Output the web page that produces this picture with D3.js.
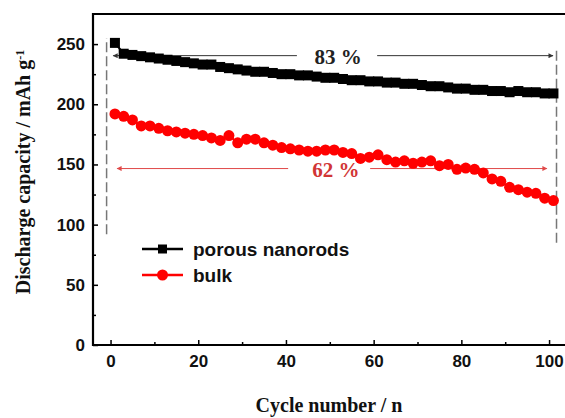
<!DOCTYPE html>
<html>
<head>
<meta charset="utf-8">
<script src="https://cdn.jsdelivr.net/npm/d3@7"></script>
<style>
  html, body { margin: 0; padding: 0; background: #fff; }
  svg { display: block; }
</style>
</head>
<body>
<svg id="chart" width="565" height="418"></svg>
<script>
// cycle numbers (every 2nd cycle is plotted)
const cycles = d3.range(1, 102, 2);

// discharge capacity, mAh g-1
const porousNanorods = [
  251, 242, 241, 240, 239, 238, 237, 236, 235, 234,
  233, 233, 231, 230, 229, 228, 227, 227, 226, 225,
  225, 224, 224, 223, 222, 222, 221, 220, 220, 219,
  219, 218, 218, 217, 217, 216, 215, 215, 214, 213,
  213, 212, 212, 211, 211, 210, 211, 210, 210, 209,
  209
];
const bulk = [
  192, 190, 187, 182, 182, 180, 178, 177, 176, 175,
  174, 172, 170, 174, 168, 171, 171, 168, 166, 164,
  163, 162, 161, 161, 162, 162, 160, 159, 155, 156,
  158, 154, 152, 153, 151, 152, 153, 149, 150, 146,
  147, 146, 143, 138, 136, 131, 129, 127, 126, 122,
  120
];

const seriesNames = ["porous nanorods", "bulk"];
const xTicks = [0, 20, 40, 60, 80, 100];
const xMinor = [10, 30, 50, 70, 90];
const yTicks = [0, 50, 100, 150, 200, 250];
const yMinor = [25, 75, 125, 175, 225];

// retention annotations
const retentionLabels = ["83 %", "62 %"];
const retentionLevels = [240.4, 146.6];
const retentionSpans = [[0.6, 42.5, 60.8, 100.9], [1.5, 40.5, 59.2, 99.5]];
const retentionLabelX = [51.9, 51.4];
const guideCycles = [-0.9, 101.7];
const guideRanges = [[92, 255], [85, 245]];

const svg = d3.select("#chart");
const margin = { top: 14, left: 93, bottom: 73 };
const x = d3.scaleLinear().domain([-4, 104]).range([margin.left, margin.left + 473.6]);
const y = d3.scaleLinear().domain([0, 275]).range([418 - margin.bottom, margin.top]);

const tickFont = "'Liberation Sans', Arial, sans-serif";
const titleFont = "'Liberation Serif', 'Times New Roman', serif";

// arrow markers
const defs = svg.append("defs");
[["blk", "#333"], ["red", "#e04848"]].forEach(([id, c]) => {
  defs.append("marker")
    .attr("id", "arrow-" + id)
    .attr("viewBox", "0 0 10 10")
    .attr("refX", 9).attr("refY", 5)
    .attr("markerWidth", 6).attr("markerHeight", 5)
    .attr("markerUnits", "userSpaceOnUse")
    .attr("orient", "auto")
    .append("path")
    .attr("d", "M0,0 L10,5 L0,10 z")
    .attr("fill", c);
});

// axes with inward ticks
svg.append("g").attr("transform", `translate(0,${y(0)})`)
  .call(d3.axisBottom(x).tickValues(xTicks).tickSize(-5).tickSizeOuter(0).tickPadding(10));
svg.append("g").attr("transform", `translate(0,${y(0)})`)
  .call(d3.axisBottom(x).tickValues(xMinor).tickSize(-3).tickSizeOuter(0).tickFormat(""));
svg.append("g").attr("transform", `translate(${x(-4)},0)`)
  .call(d3.axisLeft(y).tickValues(yTicks).tickSize(-5).tickSizeOuter(0).tickPadding(8));
svg.append("g").attr("transform", `translate(${x(-4)},0)`)
  .call(d3.axisLeft(y).tickValues(yMinor).tickSize(-3).tickSizeOuter(0).tickFormat(""));

svg.selectAll(".domain").remove();
svg.selectAll(".tick line").attr("stroke", "#000").attr("stroke-width", 1.5);
svg.selectAll(".tick text")
  .attr("font-family", tickFont)
  .attr("font-weight", "bold")
  .attr("font-size", 17)
  .attr("fill", "#111");

// frame
svg.append("path")
  .attr("d", `M${x(104)},${y(275)} H${x(-4)} V${y(0)} H${x(104)}`)
  .attr("fill", "none")
  .attr("stroke", "#000")
  .attr("stroke-width", 2.2);

// dashed guide lines
guideCycles.forEach((c, i) => {
  svg.append("line")
    .attr("x1", x(c)).attr("x2", x(c))
    .attr("y1", y(guideRanges[i][0])).attr("y2", y(guideRanges[i][1]))
    .attr("stroke", "#777")
    .attr("stroke-width", 1.5)
    .attr("stroke-dasharray", "10,4");
});

// retention arrows
const arrowColors = ["#333", "#e04848"];
const labelColors = ["#222", "#d13535"];
retentionLabels.forEach((lab, i) => {
  const s = retentionSpans[i];
  const yy = y(retentionLevels[i]);
  const id = i === 0 ? "blk" : "red";
  svg.append("line")
    .attr("x1", x(s[1])).attr("x2", x(s[0]))
    .attr("y1", yy).attr("y2", yy)
    .attr("stroke", arrowColors[i]).attr("stroke-width", 1)
    .attr("marker-end", `url(#arrow-${id})`);
  svg.append("line")
    .attr("x1", x(s[2])).attr("x2", x(s[3]))
    .attr("y1", yy).attr("y2", yy)
    .attr("stroke", arrowColors[i]).attr("stroke-width", 1)
    .attr("marker-end", `url(#arrow-${id})`);
  svg.append("text")
    .attr("x", x(retentionLabelX[i]))
    .attr("y", yy + 8)
    .attr("text-anchor", "middle")
    .attr("font-family", titleFont)
    .attr("font-weight", "bold")
    .attr("font-size", 21)
    .attr("fill", labelColors[i])
    .text(lab);
});

// series
const line = d3.line().x(d => x(d[0])).y(d => y(d[1]));
const blackPts = cycles.map((c, i) => [c, porousNanorods[i]]);
const redPts = cycles.map((c, i) => [c, bulk[i]]);

svg.append("path").datum(blackPts).attr("d", line)
  .attr("fill", "none").attr("stroke", "#000").attr("stroke-width", 2);
svg.append("g").selectAll("rect").data(blackPts).enter().append("rect")
  .attr("x", d => x(d[0]) - 5).attr("y", d => y(d[1]) - 5)
  .attr("width", 10).attr("height", 10)
  .attr("fill", "#000");

svg.append("path").datum(redPts).attr("d", line)
  .attr("fill", "none").attr("stroke", "#f00").attr("stroke-width", 2);
svg.append("g").selectAll("circle").data(redPts).enter().append("circle")
  .attr("cx", d => x(d[0])).attr("cy", d => y(d[1]))
  .attr("r", 5.5)
  .attr("fill", "#f00");

// legend
const legend = svg.append("g");
seriesNames.forEach((name, i) => {
  const ly = 249 + i * 26;
  const c = i === 0 ? "#000" : "#f00";
  legend.append("line")
    .attr("x1", 142).attr("x2", 183).attr("y1", ly).attr("y2", ly)
    .attr("stroke", c).attr("stroke-width", 2.5);
  if (i === 0) {
    legend.append("rect").attr("x", 158).attr("y", ly - 4.5)
      .attr("width", 9).attr("height", 9).attr("fill", c);
  } else {
    legend.append("circle").attr("cx", 162.5).attr("cy", ly).attr("r", 5.5).attr("fill", c);
  }
  legend.append("text")
    .attr("x", 193).attr("y", ly + 6.5)
    .attr("font-family", tickFont)
    .attr("font-weight", "bold")
    .attr("font-size", 19)
    .attr("fill", "#111")
    .text(name);
});

// axis titles
svg.append("text")
  .attr("x", 329).attr("y", 412)
  .attr("text-anchor", "middle")
  .attr("font-family", titleFont)
  .attr("font-weight", "bold")
  .attr("font-size", 20)
  .attr("fill", "#111")
  .text("Cycle number / n");

const yt = svg.append("text")
  .attr("transform", "translate(30,172) rotate(-90)")
  .attr("text-anchor", "middle")
  .attr("font-family", titleFont)
  .attr("font-weight", "bold")
  .attr("font-size", 20)
  .attr("fill", "#111");
yt.append("tspan").text("Discharge capacity / mAh g");
yt.append("tspan").attr("dy", "-0.5em").attr("font-size", 12).text("-1");
</script>
</body>
</html>
